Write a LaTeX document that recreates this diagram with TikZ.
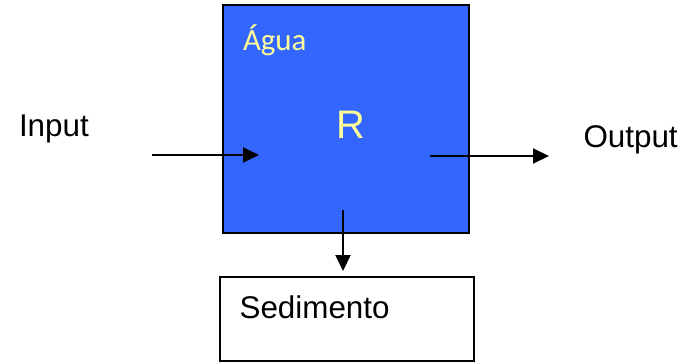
\documentclass[tikz,border=0pt]{standalone}
\usepackage{fontspec}
\setmainfont{Liberation Sans}
\newfontfamily\calibrifont{Carlito}
\usetikzlibrary{arrows.meta}
\definecolor{waterblue}{HTML}{3366FF}
\definecolor{labelyellow}{HTML}{FFFF99}
\begin{document}
\begin{tikzpicture}[x=1bp,y=-1bp,
  txt/.style={inner sep=0pt,outer sep=0pt,font=\fontsize{31.5}{36}\selectfont},
  flow/.style={line width=1.9bp,-{Triangle[length=16bp,width=15bp]}},
  compartment/.style={draw=black,inner sep=0pt,outer sep=0pt}]
  \useasboundingbox (0,0) rectangle (685,362);
  % water compartment
  \draw[compartment,fill=waterblue,line width=2bp] (223,5) rectangle (469,233);
  % sediment compartment
  \draw[compartment,line width=1.3bp] (220,277) rectangle (474,361);
  % labels
  \node[txt,anchor=base west,text=labelyellow,font=\calibrifont\fontsize{31}{36}\selectfont] (agua) at (243,50) {Água};
  \node[txt,anchor=base,text=labelyellow,font=\fontsize{40}{46}\selectfont] (r) at (350.5,138) {R};
  \node[txt,anchor=base west] (input) at (19,136) {Input};
  \node[txt,anchor=base west] (output) at (583.5,147) {Output};
  \node[txt,anchor=base west] (sed) at (239.6,318) {Sedimento};
  % flows
  \coordinate (inA) at (152,155);
  \coordinate (inB) at (259,155);
  \coordinate (outA) at (430,156);
  \coordinate (outB) at (549,156);
  \coordinate (downA) at (343,210);
  \coordinate (downB) at (343,271);
  \draw[flow] (inA) -- (inB);
  \draw[flow] (outA) -- (outB);
  \draw[flow] (downA) -- (downB);
\end{tikzpicture}
\end{document}
